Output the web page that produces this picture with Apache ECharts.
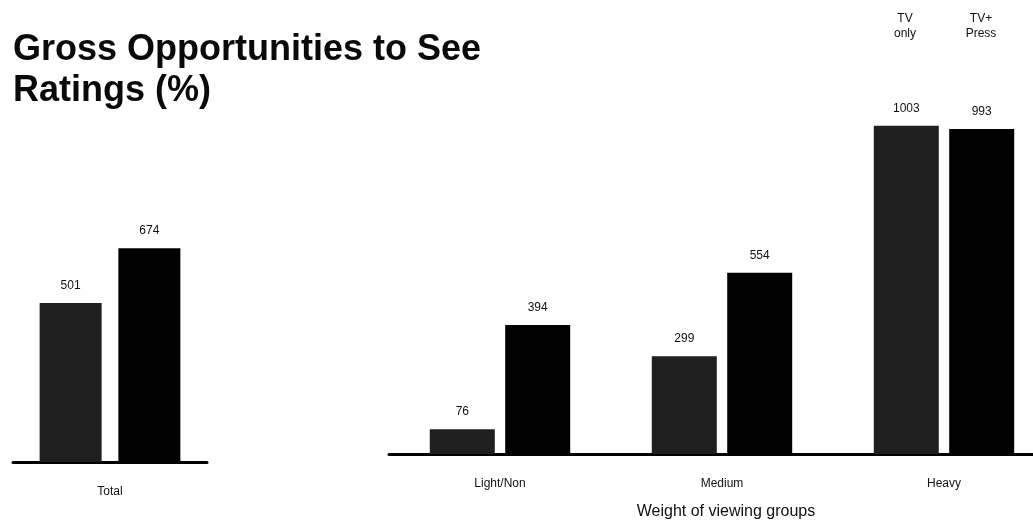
<!DOCTYPE html>
<html>
<head>
<meta charset="utf-8">
<script src="https://cdn.jsdelivr.net/npm/echarts@6/dist/echarts.min.js"></script>
<style>
  html, body { margin: 0; padding: 0; background: #fff; overflow: hidden; }
  /* canvas runs a little past the right edge so the last bar group keeps its full band */
  #chart { width: 1056px; height: 525px; }
</style>
</head>
<body>
<div id="chart"></div>
<script>
// Gross opportunities to see, ratings (%)
const seriesNames = ['TV\nonly', 'TV+\nPress'];
const totalCategories = ['Total'];
const totalTvOnly = [501];
const totalTvPress = [674];
const groupCategories = ['Light/Non', 'Medium', 'Heavy'];
const groupTvOnly = [76, 299, 1003];
const groupTvPress = [394, 554, 993];
const groupAxisName = 'Weight of viewing groups';

const FONT = '"Liberation Sans", Arial, Helvetica, sans-serif';
const COLOR_TV = '#1f1f1f';
const COLOR_PRESS = '#000000';

const valueLabel = {
  show: true,
  position: 'top',
  distance: 11,
  color: '#111',
  fontSize: 12,
  fontFamily: FONT
};

const chart = echarts.init(document.getElementById('chart'), null, { renderer: 'canvas' });

const catAxisBase = {
  type: 'category',
  axisLine: { lineStyle: { color: '#000', width: 3 } },
  axisTick: { show: false },
  axisLabel: { color: '#111', fontSize: 12, fontFamily: FONT, margin: 24 }
};

const seriesHeader = (text, x) => ({
  type: 'text',
  x: x,
  y: 11,
  style: { text: text, fill: '#111', font: '12px ' + FONT, align: 'center', lineHeight: 15 }
});

chart.setOption({
  animation: false,
  backgroundColor: '#ffffff',
  title: {
    text: 'Gross Opportunities to See\nRatings (%)',
    left: 8,
    top: 25,
    textStyle: {
      fontFamily: FONT,
      fontSize: 36,
      fontWeight: 'bold',
      lineHeight: 41,
      color: '#0a0a0a'
    }
  },
  graphic: [
    seriesHeader(seriesNames[0], 905),
    seriesHeader(seriesNames[1], 981)
  ],
  grid: [
    { left: 13, width: 194, top: 113, bottom: 63 },
    { left: 389, width: 666, top: 94, bottom: 68 }
  ],
  xAxis: [
    Object.assign({}, catAxisBase, { gridIndex: 0, data: totalCategories }),
    Object.assign({}, catAxisBase, {
      gridIndex: 1,
      data: groupCategories,
      name: groupAxisName,
      nameLocation: 'middle',
      nameGap: 50,
      nameTextStyle: { color: '#111', fontSize: 16, fontFamily: FONT, padding: [0, 0, 0, 8] }
    })
  ],
  yAxis: [
    { type: 'value', gridIndex: 0, min: 0, max: 1100, show: false },
    { type: 'value', gridIndex: 1, min: 0, max: 1100, show: false }
  ],
  series: [
    {
      name: seriesNames[0], type: 'bar', xAxisIndex: 0, yAxisIndex: 0,
      data: totalTvOnly, barWidth: 62, barGap: '27%',
      itemStyle: { color: COLOR_TV }, label: valueLabel
    },
    {
      name: seriesNames[1], type: 'bar', xAxisIndex: 0, yAxisIndex: 0,
      data: totalTvPress, barWidth: 62, barGap: '27%',
      itemStyle: { color: COLOR_PRESS }, label: valueLabel
    },
    {
      name: seriesNames[0], type: 'bar', xAxisIndex: 1, yAxisIndex: 1,
      data: groupTvOnly, barWidth: 65, barGap: '16%',
      itemStyle: { color: COLOR_TV }, label: valueLabel
    },
    {
      name: seriesNames[1], type: 'bar', xAxisIndex: 1, yAxisIndex: 1,
      data: groupTvPress, barWidth: 65, barGap: '16%',
      itemStyle: { color: COLOR_PRESS }, label: valueLabel
    }
  ]
});
</script>
</body>
</html>
